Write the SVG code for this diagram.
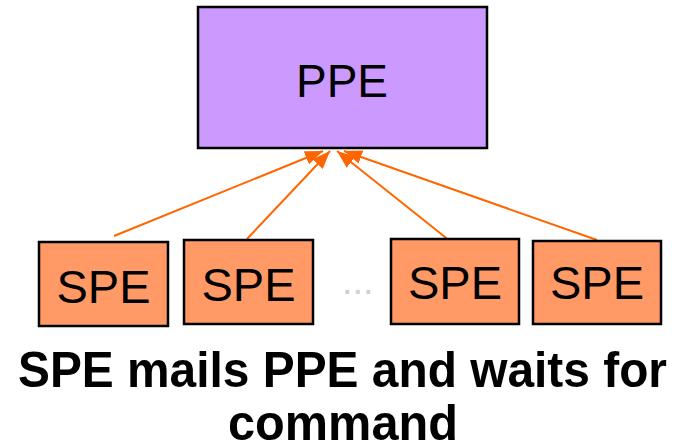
<svg xmlns="http://www.w3.org/2000/svg" width="687" height="446" viewBox="0 0 687 446">
  <defs>
    <marker id="arrow" viewBox="0 0 18 14" refX="18" refY="7" markerWidth="18" markerHeight="14" markerUnits="userSpaceOnUse" orient="auto">
      <path d="M0,0 L18,7 L0,14 z" fill="#FF6600"/>
    </marker>
    <style>
      .ppe { fill: #CC99FF; stroke: #000; stroke-width: 2.5; }
      .spe { fill: #FF9966; stroke: #000; stroke-width: 2.5; }
      .label { font-family: "Liberation Sans", Arial, sans-serif; font-size: 46px; fill: #000; text-anchor: middle; }
      .spe-label { font-size: 47px; }
      .conn { stroke: #FF6600; stroke-width: 2; fill: none; marker-end: url(#arrow); }
      .caption { font-family: "Liberation Sans", Arial, sans-serif; font-weight: bold; font-size: 50px; fill: #000; text-anchor: middle; }
    </style>
  </defs>

  <g id="ppe">
    <rect class="ppe" x="198" y="7" width="289" height="141"/>
    <text class="label" x="342" y="97">PPE</text>
  </g>

  <g id="connectors">
    <line class="conn" x1="114" y1="236" x2="323" y2="151"/>
    <line class="conn" x1="247" y1="239" x2="330" y2="151"/>
    <line class="conn" x1="450" y1="241" x2="337" y2="151"/>
    <line class="conn" x1="597" y1="240" x2="344" y2="151"/>
  </g>

  <g id="spe1">
    <rect class="spe" x="39" y="242" width="129" height="84"/>
    <text class="label spe-label" x="103.5" y="303">SPE</text>
  </g>
  <g id="spe2">
    <rect class="spe" x="184" y="240" width="129" height="84"/>
    <text class="label spe-label" x="248.5" y="301">SPE</text>
  </g>
  <g id="ellipsis">
    <text x="342" y="294" font-family="Liberation Sans, Arial, sans-serif" font-size="38" fill="#D0D0D0">...</text>
  </g>
  <g id="spe3">
    <rect class="spe" x="391" y="239" width="128" height="85"/>
    <text class="label spe-label" x="455" y="299">SPE</text>
  </g>
  <g id="spe4">
    <rect class="spe" x="533" y="241" width="128" height="83"/>
    <text class="label spe-label" x="597" y="299">SPE</text>
  </g>

  <g id="caption">
    <text class="caption" x="342.5" y="387" textLength="649" lengthAdjust="spacingAndGlyphs">SPE mails PPE and waits for</text>
    <text class="caption" x="343" y="440" textLength="230" lengthAdjust="spacingAndGlyphs">command</text>
  </g>
</svg>
